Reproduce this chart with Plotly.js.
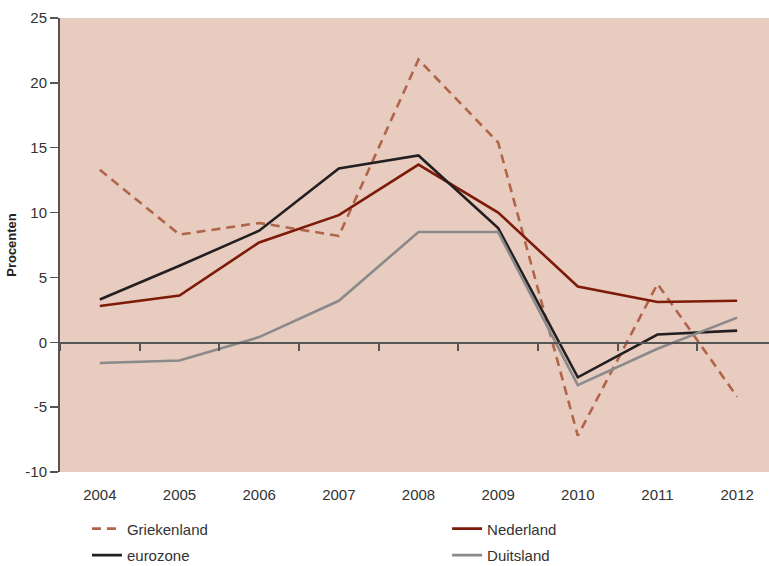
<!DOCTYPE html>
<html>
<head>
<meta charset="utf-8">
<script src="https://cdn.plot.ly/plotly-3.0.1.min.js"></script>
<style>html,body{margin:0;padding:0;background:#fff;}#chart{width:769px;height:566px;}</style>
</head>
<body>
<div id="chart"></div>
<script>
const years = [2004, 2005, 2006, 2007, 2008, 2009, 2010, 2011, 2012];
const griekenland = [13.3, 8.3, 9.2, 8.2, 21.8, 15.4, -7.2, 4.5, -4.2];
const nederland = [2.8, 3.6, 7.7, 9.8, 13.7, 10.0, 4.3, 3.1, 3.2];
const eurozone = [3.3, 5.9, 8.6, 13.4, 14.4, 8.8, -2.7, 0.6, 0.9];
const duitsland = [-1.6, -1.4, 0.4, 3.2, 8.5, 8.5, -3.3, -0.5, 1.9];
const yTicks = [-10, -5, 0, 5, 10, 15, 20, 25];
const yTickText = ['-10', '-5', '0', '5', '10', '15', '20', '25'];
const boundaryTicks = [2003.5, 2004.5, 2005.5, 2006.5, 2007.5, 2008.5, 2009.5, 2010.5, 2011.5];

const traces = [
  {x: years, y: griekenland, name: 'Griekenland', legend: 'legend', legendgroup: 'g', mode: 'lines', line: {color: '#b0654a', width: 2.6, dash: '9px,6px'}},
  {x: years, y: nederland, name: 'Nederland', legend: 'legend2', legendgroup: 'n', mode: 'lines', line: {color: '#7d1a08', width: 2.6}},
  {x: years, y: eurozone, name: 'eurozone', legend: 'legend', legendgroup: 'e', mode: 'lines', line: {color: '#231f20', width: 2.6}},
  {x: years, y: duitsland, name: 'Duitsland', legend: 'legend2', legendgroup: 'd', mode: 'lines', line: {color: '#8a8a8a', width: 2.6}}
];

const legendBase = {orientation: 'v', yanchor: 'top', xanchor: 'left', y: -0.089, traceorder: 'grouped',
                    tracegroupgap: 4, font: {size: 15, color: '#333'}, bgcolor: 'rgba(0,0,0,0)'};

const layout = {
  width: 769, height: 566,
  margin: {l: 60, r: 0, t: 18, b: 94, autoexpand: false},
  paper_bgcolor: '#ffffff',
  plot_bgcolor: '#e8ccc0',
  font: {family: 'Liberation Sans, Arial, sans-serif', size: 15, color: '#333'},
  showlegend: true,
  legend: Object.assign({}, legendBase, {x: 0.038}),
  legend2: Object.assign({}, legendBase, {x: 0.546}),
  xaxis: {range: [2003.5, 2012.4], tickvals: years, ticktext: years.map(String),
          showgrid: false, zeroline: false, showline: false, ticks: '',
          tickfont: {size: 15, color: '#333'}, ticklabelstandoff: 12, fixedrange: true},
  xaxis2: {overlaying: 'x', anchor: 'free', position: 0.286, side: 'bottom', matches: 'x',
           range: [2003.5, 2012.4], tickvals: boundaryTicks, showticklabels: false,
           ticks: 'outside', ticklen: 7, tickwidth: 2, tickcolor: '#555',
           showline: true, linecolor: '#555', linewidth: 1.5, showgrid: false, zeroline: false},
  yaxis: {range: [-10, 25], tickvals: yTicks, ticktext: yTickText, showgrid: false, zeroline: false,
          showline: true, linecolor: '#555', linewidth: 2, ticks: 'outside', ticklen: 8,
          tickwidth: 1.5, tickcolor: '#555', tickfont: {size: 15, color: '#333'},
          title: {text: 'Procenten', font: {size: 13, color: '#222', weight: 'bold'}, standoff: 6}}
};

// invisible trace so xaxis2 is rendered
traces.push({x: [2004], y: [0], xaxis: 'x2', mode: 'lines', showlegend: false, hoverinfo: 'skip', line: {width: 0}});

Plotly.newPlot('chart', traces, layout, {staticPlot: true});
</script>
</body>
</html>
